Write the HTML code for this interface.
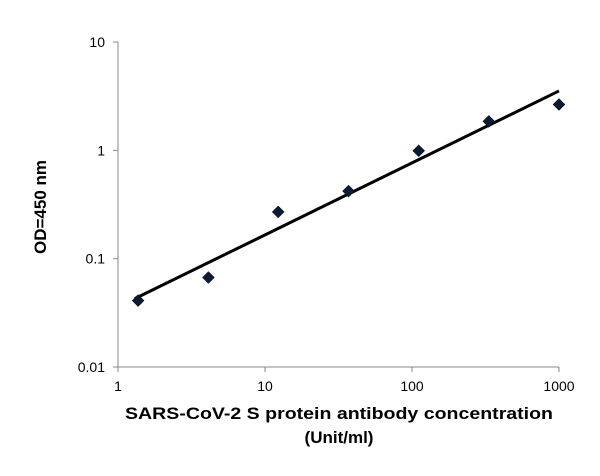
<!DOCTYPE html>
<html><head><meta charset="utf-8"><style>
body{margin:0;background:#fff;}
svg text{font-family:"Liberation Sans",Arial,sans-serif;}
</style></head><body>
<svg id="chart" width="600" height="471" xmlns="http://www.w3.org/2000/svg"></svg>
<script>
const xValues=[1.37,4.12,12.3,37,111,333,1000];
const yValues=[0.041,0.067,0.27,0.42,0.99,1.85,2.65];
const xTicks=[1,10,100,1000];
const xTickLabels=["1","10","100","1000"];
const yTicks=[0.01,0.1,1,10];
const yTickLabels=["0.01","0.1","1","10"];
const NS="http://www.w3.org/2000/svg";
const svg=document.getElementById('chart');
const X0=118,X1=559,Y0=367,Y1=42;
function sx(v){return X0+(Math.log10(v)-0)/3*(X1-X0);}
function sy(v){return Y0-(Math.log10(v)+2)/3*(Y0-Y1);}
function mk(t,a){const e=document.createElementNS(NS,t);for(const k in a)e.setAttribute(k,a[k]);svg.appendChild(e);return e;}
let e;
e=mk('line',{x1:X0,y1:Y1,x2:X0,y2:Y0,stroke:'#888','stroke-width':1});


e=mk('line',{x1:X0,y1:Y0,x2:X1,y2:Y0,stroke:'#888','stroke-width':1});


yTicks.forEach((v,i)=>{
 mk('line',{x1:X0-5,y1:sy(v),x2:X0,y2:sy(v),stroke:'#888'});
 const t=mk('text',{x:X0-13,y:sy(v)+5,'text-anchor':'end','font-size':14,fill:'#000'});
 t.textContent=yTickLabels[i];
 
 
});
xTicks.forEach((v,i)=>{
 mk('line',{x1:sx(v),y1:Y0,x2:sx(v),y2:Y0+5,stroke:'#888'});
 const t=mk('text',{x:sx(v),y:Y0+24,'text-anchor':'middle','font-size':14,fill:'#000'});
 t.textContent=xTickLabels[i];
 
 
});
const lx=xValues.map(Math.log10),ly=yValues.map(Math.log10),n=lx.length;
const mx=lx.reduce((a,b)=>a+b)/n,my=ly.reduce((a,b)=>a+b)/n;
let num=0,den=0;for(let i=0;i<n;i++){num+=(lx[i]-mx)*(ly[i]-my);den+=(lx[i]-mx)**2;}
const b=num/den,a=my-b*mx;
const xa=xValues[0]*0.95,xb=xValues[n-1];
e=mk('line',{x1:sx(xa),y1:sy(10**(a+b*Math.log10(xa))),x2:sx(xb),y2:sy(10**(a+b*Math.log10(xb))),stroke:'#000','stroke-width':3});


xValues.forEach((v,i)=>{
 const cx=sx(v),cy=sy(yValues[i]),r=6;
 const p=mk('polygon',{points:`${cx},${cy-r} ${cx+r},${cy} ${cx},${cy+r} ${cx-r},${cy}`,fill:'#0d1a33',stroke:'#000','stroke-width':0.5});
 
 
});
let t=mk('text',{x:339,y:419,'text-anchor':'middle','font-size':17,'font-weight':'bold',fill:'#000',textLength:428,lengthAdjust:'spacingAndGlyphs'});
t.textContent='SARS-CoV-2 S protein antibody concentration';


t=mk('text',{x:339,y:443,'text-anchor':'middle','font-size':17,'font-weight':'bold',fill:'#000'});
t.textContent='(Unit/ml)';


t=mk('text',{x:46,y:207,'text-anchor':'middle','font-size':17,'font-weight':'bold',fill:'#000',transform:'rotate(-90 46 207)'});
t.textContent='OD=450 nm';


</script>
</body></html>
